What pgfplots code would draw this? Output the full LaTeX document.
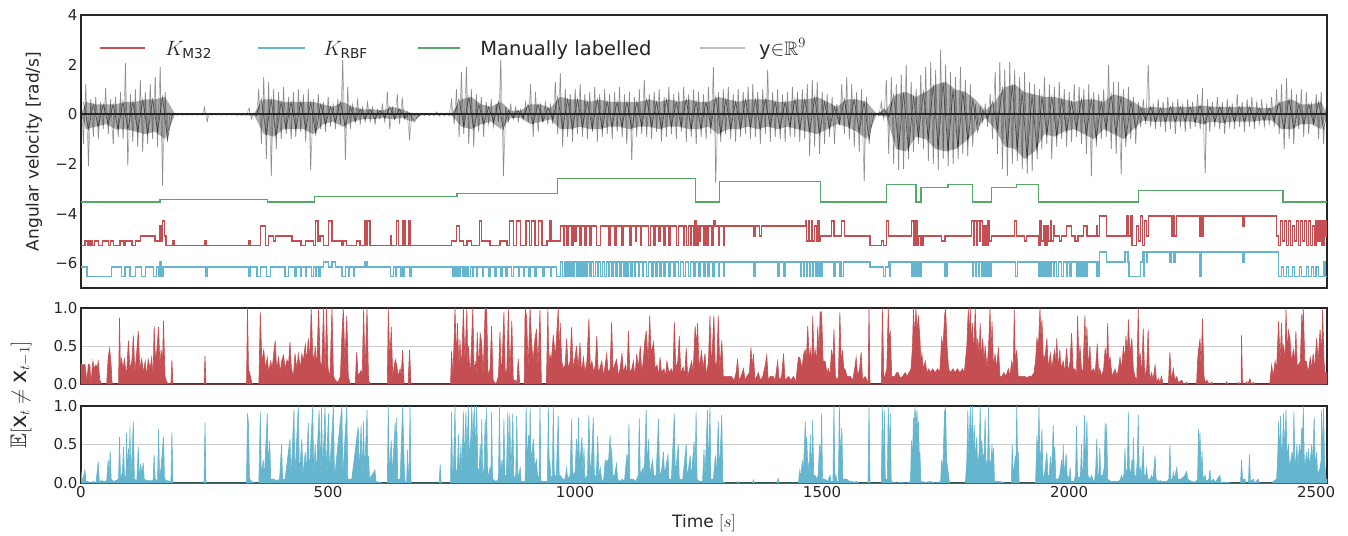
\documentclass[border=0pt]{standalone}
\usepackage{amsmath,amssymb}
\usepackage{fontspec}
\setmainfont{DejaVu Sans}
\usepackage{pgfplots}
\usepackage{pgfplotstable}
\pgfplotsset{compat=1.18}
\definecolor{mred}{RGB}{196,78,82}
\definecolor{mcyan}{RGB}{100,181,205}
\definecolor{mgreen}{RGB}{85,168,104}
\definecolor{mgrey}{RGB}{190,190,190}
\definecolor{spine}{RGB}{38,38,38}
\pgfplotsset{
  common/.style={
    scale only axis, width=1246pt, xmin=0, xmax=2522, anchor=north west,
    axis line style={spine, line width=1.6pt},
    major tick length=0pt,
    tick label style={font=\fontsize{15}{18}\selectfont, text=spine},
    label style={font=\fontsize{17}{20}\selectfont, text=spine},
  },
  comb/.style={
    common, ymin=0, ymax=1, ytick={0,0.5,1}, yticklabels={0.0,0.5,1.0},
    ymajorgrids, grid style={gray!40, line width=1pt},
  },
}
\tikzset{legtext/.style={anchor=base west, inner sep=0pt, font=\fontsize{19.5}{23}\selectfont, text=spine}}
% outer envelope of the nine channels (alternating max / min per 5 s)
\pgfplotstableread{
x y
0 0.8
5 -1.2
10 1.2
15 -2.1
20 0.6
25 -0.9
30 0.7
35 -1.0
40 0.5
45 -0.6
50 1.05
55 -0.8
60 0.6
65 -1.2
70 0.7
75 -0.9
80 0.9
85 -1.0
90 2.06
95 -2.06
100 0.8
105 -1.1
110 1.0
115 -1.3
120 1.4
125 -1.5
130 0.9
135 -1.2
140 1.2
145 -1.0
150 1.5
155 -1.3
160 1.9
165 -2.87
170 0.9
175 -1.1
180 0.05
185 -0.05
190 0.04
195 -0.04
200 0.04
205 -0.04
210 0.04
215 -0.04
220 0.04
225 -0.04
230 0.04
235 -0.04
240 0.04
245 -0.04
250 0.3
255 -0.3
260 0.04
265 -0.04
270 0.04
275 -0.04
280 0.04
285 -0.04
290 0.04
295 -0.04
300 0.04
305 -0.04
310 0.04
315 -0.04
320 0.04
325 -0.04
330 0.04
335 -0.04
340 0.25
345 -0.2
350 0.05
355 -0.05
360 1.0
365 -1.2
370 1.5
375 -1.8
380 1.3
385 -2.5
390 1.0
395 -1.4
400 0.9
405 -1.0
410 1.1
415 -0.8
420 0.7
425 -1.0
430 0.9
435 -0.9
440 1.0
445 -0.7
450 0.8
455 -1.1
460 1.0
465 -2.26
470 0.6
475 -0.8
480 0.8
485 -0.6
490 0.5
495 -0.7
500 0.7
505 -0.5
510 0.4
515 -0.6
520 0.6
525 -0.4
530 2.2
535 -1.86
540 1.1
545 -0.6
550 0.4
555 -0.3
560 0.6
565 -0.4
570 0.3
575 -0.3
580 0.5
585 -0.3
590 0.3
595 -0.4
600 0.2
605 -0.2
610 0.4
615 -0.3
620 0.9
625 -0.6
630 0.3
635 -0.2
640 0.8
645 -0.4
650 0.65
655 -0.2
660 0.1
665 -1.05
670 0.05
675 -0.05
680 0.05
685 -0.05
690 0.05
695 -0.05
700 0.05
705 -0.05
710 0.05
715 -0.05
720 0.1
725 -0.08
730 0.05
735 -0.05
740 0.05
745 -0.05
750 0.6
755 -0.4
760 1.0
765 -0.9
770 1.7
775 -0.8
780 1.9
785 -1.2
790 1.0
795 -1.3
800 0.8
805 -0.7
810 0.7
815 -0.9
820 0.5
825 -0.4
830 0.6
835 -0.5
840 0.4
845 -0.3
850 2.2
855 -2.5
860 0.3
865 -0.3
870 0.4
875 -0.2
880 0.3
885 -0.3
890 0.2
895 -0.2
900 0.5
905 -0.3
910 1.2
915 -0.9
920 0.9
925 -0.7
930 0.4
935 -0.3
940 0.5
945 -0.4
950 0.4
955 -0.4
960 1.3
965 -0.8
970 1.65
975 -1.3
980 1.0
985 -0.9
990 0.8
995 -1.1
1000 1.0
1005 -0.8
1010 1.2
1015 -0.9
1020 0.8
1025 -1.0
1030 0.9
1035 -0.7
1040 1.1
1045 -1.1
1050 0.8
1055 -0.9
1060 1.0
1065 -0.8
1070 0.8
1075 -1.0
1080 0.9
1085 -0.7
1090 1.1
1095 -0.9
1100 0.8
1105 -1.2
1110 0.9
1115 -1.86
1120 0.7
1125 -0.9
1130 1.0
1135 -0.8
1140 1.4
1145 -0.9
1150 0.8
1155 -1.0
1160 0.9
1165 -0.7
1170 1.0
1175 -1.1
1180 0.7
1185 -0.9
1190 1.1
1195 -0.8
1200 0.8
1205 -1.0
1210 0.9
1215 -0.7
1220 1.1
1225 -1.1
1230 0.8
1235 -0.9
1240 1.0
1245 -1.2
1250 0.9
1255 -0.9
1260 0.8
1265 -1.0
1270 1.1
1275 -0.8
1280 1.9
1285 -2.75
1290 0.9
1295 -1.1
1300 1.0
1305 -0.8
1310 1.1
1315 -1.0
1320 0.8
1325 -1.1
1330 1.0
1335 -0.9
1340 0.9
1345 -0.8
1350 1.1
1355 -1.0
1360 1.2
1365 -0.9
1370 0.9
1375 -1.2
1380 1.0
1385 -0.8
1390 1.8
1395 -1.1
1400 0.9
1405 -0.9
1410 1.0
1415 -1.0
1420 0.8
1425 -1.1
1430 0.9
1435 -0.9
1440 1.1
1445 -0.9
1450 0.9
1455 -1.1
1460 1.0
1465 -1.0
1470 1.2
1475 -1.7
1480 1.4
1485 -1.3
1490 1.3
1495 -1.6
1500 0.9
1505 -1.2
1510 0.8
1515 -0.9
1520 0.7
1525 -1.2
1530 0.4
1535 -0.4
1540 1.2
1545 -0.8
1550 1.5
1555 -1.0
1560 1.2
1565 -1.3
1570 0.9
1575 -1.5
1580 1.0
1585 -2.67
1590 0.7
1595 -1.2
1600 0.05
1605 -0.05
1610 0.05
1615 -0.05
1620 0.5
1625 -0.2
1630 1.4
1635 -1.6
1640 1.5
1645 -2.0
1650 1.2
1655 -2.26
1660 1.6
1665 -2.2
1670 2.0
1675 -1.8
1680 1.3
1685 -1.5
1690 1.0
1695 -1.2
1700 1.6
1705 -1.4
1710 1.9
1715 -1.9
1720 2.1
1725 -2.0
1730 1.8
1735 -2.26
1740 2.6
1745 -1.8
1750 2.0
1755 -2.1
1760 1.7
1765 -2.0
1770 1.5
1775 -1.8
1780 1.9
1785 -1.6
1790 1.4
1795 -1.7
1800 1.2
1805 -1.3
1810 0.4
1815 -0.4
1820 0.3
1825 -0.3
1830 0.4
1835 -0.5
1840 0.8
1845 -1.0
1850 1.7
1855 -1.6
1860 2.1
1865 -2.2
1870 1.8
1875 -2.5
1880 2.1
1885 -2.0
1890 1.8
1895 -1.9
1900 1.5
1905 -2.2
1910 1.7
1915 -2.4
1920 1.3
1925 -2.3
1930 1.2
1935 -1.8
1940 1.0
1945 -1.4
1950 1.5
1955 -1.2
1960 1.2
1965 -1.8
1970 1.1
1975 -1.3
1980 1.3
1985 -1.0
1990 1.0
1995 -1.3
2000 0.9
2005 -1.1
2010 1.2
2015 -0.9
2020 1.1
2025 -1.2
2030 1.0
2035 -1.6
2040 1.2
2045 -2.5
2050 0.9
2055 -1.3
2060 0.8
2065 -1.0
2070 1.0
2075 -0.9
2080 2.0
2085 -1.4
2090 1.3
2095 -1.6
2100 1.3
2105 -2.4
2110 1.0
2115 -1.3
2120 1.1
2125 -1.0
2130 0.7
2135 -1.2
2140 0.5
2145 -0.5
2150 0.6
2155 -0.4
2160 2.0
2165 -0.5
2170 0.4
2175 -0.6
2180 0.6
2185 -0.5
2190 0.5
2195 -0.7
2200 0.7
2205 -0.6
2210 0.5
2215 -0.8
2220 0.6
2225 -0.5
2230 0.4
2235 -0.7
2240 0.6
2245 -0.6
2250 0.5
2255 -0.5
2260 0.8
2265 -0.6
2270 1.05
2275 -2.35
2280 0.6
2285 -0.7
2290 0.5
2295 -0.5
2300 0.7
2305 -0.6
2310 0.5
2315 -0.8
2320 0.6
2325 -0.5
2330 0.4
2335 -0.6
2340 0.8
2345 -0.5
2350 0.5
2355 -0.7
2360 0.6
2365 -0.5
2370 0.7
2375 -0.6
2380 0.5
2385 -0.4
2390 0.6
2395 -0.5
2400 0.4
2405 -0.4
2410 0.7
2415 -0.5
2420 1.0
2425 -0.8
2430 1.2
2435 -1.4
2440 1.45
2445 -1.0
2450 1.0
2455 -1.2
2460 0.8
2465 -0.6
2470 1.0
2475 -0.9
2480 0.9
2485 -0.8
2490 0.5
2495 -0.4
2500 0.8
2505 -1.0
2510 0.9
2515 -1.2
2520 0.3
}\outer
\begin{document}
\begin{tikzpicture}[x=1pt,y=1pt]
\useasboundingbox (0,0) rectangle (1348,-535);
% ---------------- top panel ----------------
\begin{axis}[common, at={(81pt,-15pt)}, height=273pt,
  ymin=-7, ymax=4, ytick={-6,-4,-2,0,2,4}, yticklabels={−6,−4,−2,0,2,4},
  xtick=\empty,
  ylabel={Angular velocity [rad/s]},
  ylabel style={at={(axis description cs:-0.0377,0.5)}, anchor=center},
]
% legend samples (drawn first)
\addplot[draw=mred, line width=1.8pt, forget plot] coordinates {(38,2.68)(130,2.68)};
\addplot[draw=mcyan, line width=1.8pt, forget plot] coordinates {(358,2.68)(453,2.68)};
\addplot[draw=mgreen, line width=1.8pt, forget plot] coordinates {(682,2.68)(767,2.68)};
\addplot[draw=mgrey, line width=1.8pt, forget plot] coordinates {(1253,2.68)(1344,2.68)};
% dark core band of the channels
\addplot[fill=black, fill opacity=0.32, draw=none, forget plot] coordinates {
(0,0)(10,0.5)(30,0.4)(50,0.4)(70,0.4)(90,0.5)(110,0.5)(130,0.6)(150,0.6)(170,0.7)(190,0.03)(210,0.03)(230,0.03)(250,0.03)(270,0.03)(290,0.03)(310,0.03)(330,0.03)(350,0.03)(370,0.6)(390,0.6)(410,0.5)(430,0.5)(450,0.5)(470,0.5)(490,0.4)(510,0.3)(530,0.5)(550,0.3)(570,0.2)(590,0.2)(610,0.15)(630,0.3)(650,0.2)(670,0.04)(690,0.03)(710,0.03)(730,0.03)(750,0.03)(770,0.6)(790,0.7)(810,0.4)(830,0.3)(850,0.5)(870,0.15)(890,0.15)(910,0.4)(930,0.4)(950,0.25)(970,0.7)(990,0.6)(1010,0.6)(1030,0.5)(1050,0.6)(1070,0.5)(1090,0.5)(1110,0.5)(1130,0.5)(1150,0.6)(1170,0.5)(1190,0.6)(1210,0.5)(1230,0.6)(1250,0.5)(1270,0.5)(1290,0.7)(1310,0.6)(1330,0.5)(1350,0.6)(1370,0.6)(1390,0.6)(1410,0.5)(1430,0.5)(1450,0.6)(1470,0.6)(1490,0.7)(1510,0.5)(1530,0.3)(1550,0.6)(1570,0.6)(1590,0.5)(1610,0.03)(1630,0.2)(1650,0.8)(1670,0.9)(1690,0.7)(1710,0.9)(1730,1.2)(1750,1.3)(1770,1.0)(1790,0.9)(1810,0.6)(1830,0.15)(1850,0.5)(1870,1.1)(1890,1.2)(1910,0.9)(1930,0.8)(1950,0.7)(1970,0.7)(1990,0.6)(2010,0.5)(2030,0.6)(2050,0.6)(2070,0.5)(2090,0.8)(2110,0.7)(2130,0.5)(2150,0.25)(2170,0.3)(2190,0.25)(2210,0.3)(2230,0.3)(2250,0.3)(2270,0.35)(2290,0.3)(2310,0.3)(2330,0.3)(2350,0.3)(2370,0.3)(2390,0.25)(2410,0.25)(2430,0.5)(2450,0.6)(2470,0.4)(2490,0.4)(2510,0.5)(2522,0)
(2510,-0.6)(2490,-0.4)(2470,-0.4)(2450,-0.6)(2430,-0.6)(2410,-0.25)(2390,-0.25)(2370,-0.3)(2350,-0.3)(2330,-0.3)(2310,-0.35)(2290,-0.3)(2270,-0.4)(2250,-0.3)(2230,-0.3)(2210,-0.3)(2190,-0.3)(2170,-0.3)(2150,-0.25)(2130,-0.6)(2110,-1.0)(2090,-0.8)(2070,-0.6)(2050,-1.0)(2030,-0.8)(2010,-0.6)(1990,-0.7)(1970,-0.9)(1950,-0.8)(1930,-1.5)(1910,-1.8)(1890,-1.4)(1870,-1.3)(1850,-0.6)(1830,-0.15)(1810,-0.7)(1790,-1.1)(1770,-1.4)(1750,-1.5)(1730,-1.4)(1710,-1.0)(1690,-0.9)(1670,-1.5)(1650,-1.4)(1630,-0.1)(1610,-0.03)(1590,-1.0)(1570,-0.7)(1550,-0.5)(1530,-0.4)(1510,-0.6)(1490,-0.8)(1470,-0.7)(1450,-0.6)(1430,-0.5)(1410,-0.6)(1390,-0.5)(1370,-0.6)(1350,-0.5)(1330,-0.6)(1310,-0.6)(1290,-0.8)(1270,-0.5)(1250,-0.6)(1230,-0.6)(1210,-0.5)(1190,-0.5)(1170,-0.6)(1150,-0.5)(1130,-0.5)(1110,-0.6)(1090,-0.5)(1070,-0.5)(1050,-0.6)(1030,-0.6)(1010,-0.5)(990,-0.6)(970,-0.6)(950,-0.2)(930,-0.3)(910,-0.4)(890,-0.15)(870,-0.15)(850,-0.6)(830,-0.3)(810,-0.4)(790,-0.6)(770,-0.5)(750,-0.03)(730,-0.03)(710,-0.03)(690,-0.03)(670,-0.3)(650,-0.15)(630,-0.2)(610,-0.15)(590,-0.2)(570,-0.2)(550,-0.3)(530,-0.5)(510,-0.3)(490,-0.4)(470,-0.8)(450,-0.6)(430,-0.6)(410,-0.6)(390,-0.9)(370,-0.8)(350,-0.03)(330,-0.03)(310,-0.03)(290,-0.03)(270,-0.03)(250,-0.03)(230,-0.03)(210,-0.03)(190,-0.03)(170,-1.0)(150,-0.7)(130,-0.8)(110,-0.7)(90,-0.6)(70,-0.6)(50,-0.4)(30,-0.5)(10,-0.6)(0,0)
} -- cycle;
\addplot[black, opacity=0.3, line width=0.7pt, forget plot] table {\outer};
\addplot[ycomb, black, opacity=0.22, line width=0.9pt, forget plot] table {\outer};
\addplot[black, opacity=0.5, line width=0.7pt, forget plot] coordinates {
(5,0.5)(15,-0.6)(25,0.4)(35,-0.5)(45,0.4)(55,-0.4)(65,0.4)(75,-0.6)(85,0.5)(95,-0.6)(105,0.5)(115,-0.7)(125,0.6)(135,-0.8)(145,0.6)(155,-0.7)(165,0.7)(175,-1.0)(185,0.03)(355,-0.03)(365,0.6)(375,-0.8)(385,0.6)(395,-0.9)(405,0.5)(415,-0.6)(425,0.5)(435,-0.6)(445,0.5)(455,-0.6)(465,0.5)(475,-0.8)(485,0.4)(495,-0.4)(505,0.3)(515,-0.3)(525,0.5)(535,-0.5)(545,0.3)(555,-0.3)(565,0.2)(575,-0.2)(585,0.2)(595,-0.2)(605,0.15)(615,-0.15)(625,0.3)(635,-0.2)(645,0.2)(655,-0.15)(665,0.04)(675,-0.3)(685,0.03)(755,-0.03)(765,0.6)(775,-0.5)(785,0.7)(795,-0.6)(805,0.4)(815,-0.4)(825,0.3)(835,-0.3)(845,0.5)(855,-0.6)(865,0.15)(875,-0.15)(885,0.15)(895,-0.15)(905,0.4)(915,-0.4)(925,0.4)(935,-0.3)(945,0.25)(955,-0.2)(965,0.7)(975,-0.6)(985,0.6)(995,-0.6)(1005,0.6)(1015,-0.5)(1025,0.5)(1035,-0.6)(1045,0.6)(1055,-0.6)(1065,0.5)(1075,-0.5)(1085,0.5)(1095,-0.5)(1105,0.5)(1115,-0.6)(1125,0.5)(1135,-0.5)(1145,0.6)(1155,-0.5)(1165,0.5)(1175,-0.6)(1185,0.6)(1195,-0.5)(1205,0.5)(1215,-0.5)(1225,0.6)(1235,-0.6)(1245,0.5)(1255,-0.6)(1265,0.5)(1275,-0.5)(1285,0.7)(1295,-0.8)(1305,0.6)(1315,-0.6)(1325,0.5)(1335,-0.6)(1345,0.6)(1355,-0.5)(1365,0.6)(1375,-0.6)(1385,0.6)(1395,-0.5)(1405,0.5)(1415,-0.6)(1425,0.5)(1435,-0.5)(1445,0.6)(1455,-0.6)(1465,0.6)(1475,-0.7)(1485,0.7)(1495,-0.8)(1505,0.5)(1515,-0.6)(1525,0.3)(1535,-0.4)(1545,0.6)(1555,-0.5)(1565,0.6)(1575,-0.7)(1585,0.5)(1595,-1.0)(1605,0.03)(1615,-0.03)(1625,0.2)(1635,-0.1)(1645,0.8)(1655,-1.4)(1665,0.9)(1675,-1.5)(1685,0.7)(1695,-0.9)(1705,0.9)(1715,-1.0)(1725,1.2)(1735,-1.4)(1745,1.3)(1755,-1.5)(1765,1.0)(1775,-1.4)(1785,0.9)(1795,-1.1)(1805,0.6)(1815,-0.7)(1825,0.15)(1835,-0.15)(1845,0.5)(1855,-0.6)(1865,1.1)(1875,-1.3)(1885,1.2)(1895,-1.4)(1905,0.9)(1915,-1.8)(1925,0.8)(1935,-1.5)(1945,0.7)(1955,-0.8)(1965,0.7)(1975,-0.9)(1985,0.6)(1995,-0.7)(2005,0.5)(2015,-0.6)(2025,0.6)(2035,-0.8)(2045,0.6)(2055,-1.0)(2065,0.5)(2075,-0.6)(2085,0.8)(2095,-0.8)(2105,0.7)(2115,-1.0)(2125,0.5)(2135,-0.6)(2145,0.25)(2155,-0.25)(2165,0.3)(2175,-0.3)(2185,0.25)(2195,-0.3)(2205,0.3)(2215,-0.3)(2225,0.3)(2235,-0.3)(2245,0.3)(2255,-0.3)(2265,0.35)(2275,-0.4)(2285,0.3)(2295,-0.3)(2305,0.3)(2315,-0.35)(2325,0.3)(2335,-0.3)(2345,0.3)(2355,-0.3)(2365,0.3)(2375,-0.3)(2385,0.25)(2395,-0.25)(2405,0.25)(2415,-0.25)(2425,0.5)(2435,-0.6)(2445,0.6)(2455,-0.6)(2465,0.4)(2475,-0.4)(2485,0.4)(2495,-0.4)(2505,0.5)(2515,-0.6)(2522,0)
};
\addplot[black!85, line width=1.6pt, forget plot] coordinates {(0,0)(2522,0)};
% manually labelled
\addplot[mgreen, line width=1.3pt, const plot, forget plot] coordinates {
(0,-3.54)(160,-3.43)(378,-3.54)(473,-3.31)(761,-3.18)(965,-2.6)(1244,-3.54)(1293,-2.71)(1497,-3.54)(1631,-2.83)(1690,-3.54)(1700,-2.96)(1755,-2.83)(1804,-3.54)(1843,-2.96)(1893,-2.83)(1938,-3.54)(2141,-3.08)(2433,-3.54)(2522,-3.54)
};
% K M32
\addplot[mred, line width=1.3pt, const plot, forget plot] coordinates {
(0,-5.3)(8,-5.1)(14,-5.3)(18,-5.1)(22,-5.3)(28,-5.1)(35,-5.3)(44,-5.1)(55,-5.3)(59,-5.1)(66,-5.3)(79,-5.1)(86,-5.3)(89,-5.1)(103,-5.3)(110,-5.1)(120,-4.9)(150,-5.1)(160,-4.5)(163,-5.1)(165,-4.3)(169,-4.9)(172,-5.3)(186,-5.1)(189,-5.3)(251,-5.1)(254,-5.3)(339,-5.1)(342,-5.3)(363,-4.5)(373,-5.3)(379,-4.9)(390,-5.1)(394,-4.9)(427,-5.1)(445,-5.3)(455,-5.1)(470,-5.3)(474,-4.3)(480,-5.1)(484,-4.9)(491,-5.3)(501,-4.3)(508,-5.1)(528,-5.3)(531,-5.1)(538,-5.3)(558,-5.1)(565,-5.3)(575,-4.3)(578,-5.3)(580,-4.3)(585,-5.3)(626,-4.9)(629,-5.3)(639,-4.3)(643,-5.3)(652,-4.3)(656,-5.3)(663,-4.3)(666,-5.3)(750,-5.1)(760,-4.5)(766,-5.1)(774,-5.3)(781,-5.1)(791,-5.3)(806,-4.3)(811,-5.1)(828,-5.3)(848,-5.1)(862,-5.3)(868,-4.3)(875,-5.3)(882,-4.3)(890,-5.3)(901,-4.3)(908,-5.3)(912,-4.3)(919,-5.3)(926,-4.3)(933,-5.3)(943,-5.1)(949,-4.3)(953,-5.1)(970,-4.5)
(976,-5.3)(979,-4.5)(983,-5.3)(986,-4.5)(993,-5.3)(996,-4.5)(1000,-5.1)(1003,-4.5)(1010,-5.3)(1013,-4.5)(1020,-5.3)(1023,-4.5)(1030,-5.3)(1033,-4.5)(1044,-5.3)(1051,-4.5)(1068,-5.3)(1071,-4.5)(1081,-5.3)(1084,-4.5)(1095,-5.3)(1098,-4.5)(1111,-5.3)(1114,-4.5)(1122,-5.1)(1125,-4.5)(1132,-5.3)(1135,-4.5)(1149,-5.3)(1152,-4.5)(1159,-5.3)(1162,-4.5)(1169,-5.1)(1172,-4.5)(1179,-5.3)(1182,-4.5)(1189,-5.3)(1192,-4.5)(1206,-5.3)(1209,-4.5)(1219,-5.3)(1222,-4.5)(1226,-5.3)(1229,-4.5)(1233,-5.3)(1236,-4.5)(1240,-5.3)(1243,-4.3)(1246,-5.3)(1249,-4.5)(1251,-5.1)(1254,-4.5)(1260,-5.3)(1263,-4.5)(1267,-5.3)(1270,-4.5)(1277,-5.3)(1280,-4.3)(1283,-4.5)(1290,-5.3)(1293,-4.5)(1300,-5.3)(1303,-4.5)
(1361,-4.9)(1364,-4.5)(1374,-4.9)(1377,-4.5)
(1466,-4.3)(1469,-5.1)(1472,-4.3)(1475,-5.1)(1478,-4.3)(1481,-5.1)(1485,-4.5)(1488,-5.1)(1491,-4.3)(1494,-5.1)(1497,-4.9)(1519,-4.3)(1524,-4.9)(1540,-4.3)(1545,-4.9)(1597,-5.3)(1620,-5.1)(1625,-5.3)(1630,-4.3)(1635,-4.9)(1681,-4.3)(1685,-5.3)(1688,-4.3)(1692,-5.3)(1695,-4.9)(1700,-5.3)(1704,-4.9)(1742,-5.1)(1749,-4.9)
(1803,-4.3)(1806,-5.3)(1809,-4.3)(1812,-5.3)(1815,-4.3)(1818,-5.1)(1821,-4.3)(1824,-5.3)(1828,-4.5)(1832,-5.3)(1836,-4.3)(1839,-5.1)(1843,-4.9)(1889,-4.3)(1894,-4.9)(1910,-5.1)(1914,-4.9)
(1938,-5.3)(1941,-4.3)(1944,-5.1)(1948,-4.5)(1951,-5.3)(1955,-4.5)(1958,-5.1)(1962,-4.3)(1965,-5.1)(1968,-4.5)(1971,-4.9)(1980,-5.1)(1984,-4.9)(1995,-4.5)(2005,-4.9)(2012,-5.1)(2018,-4.9)(2029,-4.5)(2036,-4.9)(2055,-4.5)(2058,-4.9)(2062,-4.1)(2076,-4.9)(2117,-4.1)(2120,-4.9)(2124,-4.1)(2127,-5.3)(2137,-4.5)(2140,-5.1)(2144,-4.1)(2148,-5.3)(2152,-4.3)(2156,-4.9)(2160,-4.1)(2208,-4.9)(2211,-4.1)(2214,-4.9)(2217,-4.1)(2264,-4.9)(2266,-4.1)(2268,-4.9)(2271,-4.1)(2351,-4.5)(2354,-4.1)
(2420,-4.9)(2424,-5.3)(2428,-4.3)(2432,-5.1)(2436,-4.3)(2440,-5.3)(2444,-4.3)(2448,-5.3)(2452,-4.5)(2456,-5.1)(2460,-4.3)(2464,-5.3)(2468,-4.3)(2472,-5.1)(2476,-4.3)(2480,-5.3)(2484,-4.3)(2488,-5.3)(2492,-4.5)(2496,-5.3)(2500,-4.3)(2504,-5.1)(2508,-4.3)(2512,-5.3)(2516,-4.3)(2520,-4.9)(2522,-4.9)
};
% K RBF
\addplot[mcyan, line width=1.3pt, const plot, forget plot] coordinates {
(0,-6.15)(12,-6.55)(62,-6.15)(82,-6.55)(89,-6.15)(99,-6.55)(110,-6.15)(123,-6.55)(130,-6.15)(147,-6.55)(153,-6.15)(158,-6.55)(160,-5.95)(163,-6.55)(166,-6.15)(253,-6.55)(256,-6.15)(339,-6.55)(342,-6.15)(356,-6.55)(363,-6.15)(376,-6.55)(383,-6.15)(413,-6.55)(420,-6.15)(433,-6.55)(436,-6.15)(444,-6.55)(447,-6.15)(454,-6.55)(457,-6.15)(467,-6.55)(470,-6.15)(474,-6.55)(477,-6.15)(481,-6.55)(484,-6.15)(491,-5.95)(501,-6.15)(508,-5.95)(515,-6.15)(528,-6.55)(535,-6.15)(541,-6.55)(544,-6.15)(551,-6.55)(554,-6.15)(575,-5.95)(579,-6.15)(626,-6.55)(633,-6.15)(636,-6.55)(639,-6.15)(646,-6.55)(649,-6.15)(652,-6.55)(655,-6.15)(666,-6.55)(669,-6.15)
(752,-6.55)(755,-6.15)(758,-6.55)(761,-6.15)(765,-6.55)(768,-6.15)(772,-6.55)(775,-6.15)(778,-6.55)(781,-6.15)(785,-6.55)(788,-6.15)(792,-6.55)(795,-6.15)(800,-6.55)(803,-6.15)(812,-6.55)(815,-6.15)(825,-6.55)(828,-6.15)(838,-6.55)(841,-6.15)(850,-6.55)(853,-6.15)(860,-6.55)(863,-6.15)(872,-6.55)(875,-6.15)(885,-6.55)(888,-6.15)(895,-6.55)(898,-6.15)(906,-6.55)(909,-6.15)(918,-6.55)(921,-6.15)(935,-6.55)(938,-6.15)(950,-6.55)(953,-6.15)(963,-6.55)(970,-5.95)
(975,-6.55)(978,-5.95)(980,-6.55)(983,-5.95)(985,-6.55)(988,-5.95)(990,-6.55)(993,-5.95)(996,-6.55)(999,-5.95)(1003,-6.55)(1006,-5.95)(1010,-6.55)(1013,-5.95)(1016,-6.55)(1019,-5.95)(1022,-6.55)(1025,-5.95)(1030,-6.55)(1033,-5.95)(1038,-6.55)(1041,-5.95)(1045,-6.55)(1048,-5.95)(1052,-6.55)(1055,-5.95)(1060,-6.55)(1063,-5.95)(1067,-6.55)(1070,-5.95)(1075,-6.55)(1078,-5.95)(1083,-6.55)(1086,-5.95)(1090,-6.55)(1093,-5.95)(1098,-6.55)(1101,-5.95)(1105,-6.55)(1108,-5.95)(1113,-6.55)(1116,-5.95)(1120,-6.55)(1123,-5.95)(1128,-6.55)(1131,-5.95)(1136,-6.55)(1139,-5.95)(1145,-6.55)(1148,-5.95)(1155,-6.55)(1158,-5.95)(1163,-6.55)(1166,-5.95)(1172,-6.55)(1175,-5.95)(1180,-6.55)(1183,-5.95)(1190,-6.55)(1193,-5.95)(1200,-6.55)(1203,-5.95)(1210,-6.55)(1213,-5.95)(1220,-6.55)(1223,-5.95)(1230,-6.55)(1233,-5.95)(1240,-6.55)(1243,-5.95)(1250,-6.55)(1253,-5.95)(1260,-6.55)(1263,-5.95)(1268,-6.55)(1271,-5.95)(1278,-6.55)(1281,-5.95)(1290,-6.55)(1293,-5.95)(1300,-6.55)(1303,-5.95)(1361,-6.55)(1364,-5.95)(1411,-6.55)(1414,-5.95)(1422,-6.55)(1425,-5.95)(1456,-6.55)(1459,-5.95)(1462,-6.55)(1465,-5.95)(1468,-6.55)(1471,-5.95)(1474,-6.55)(1477,-5.95)(1480,-6.55)(1483,-5.95)(1486,-6.55)(1489,-5.95)(1492,-6.55)(1495,-5.95)(1498,-6.55)(1501,-5.95)(1524,-6.55)(1527,-5.95)(1535,-6.55)(1538,-5.95)(1540,-6.55)(1543,-5.95)
(1597,-6.15)(1625,-6.55)(1628,-6.15)(1634,-5.95)(1636,-6.55)(1639,-5.95)
(1682,-6.55)(1684,-5.95)(1686,-6.55)(1688,-5.95)(1690,-6.55)(1692,-5.95)(1694,-6.55)(1696,-5.95)(1698,-6.55)(1700,-5.95)(1748,-6.55)(1750,-5.95)(1752,-6.55)(1754,-5.95)(1804,-6.55)(1807,-5.95)(1810,-6.55)(1813,-5.95)(1816,-6.55)(1819,-5.95)(1822,-6.55)(1825,-5.95)(1828,-6.55)(1831,-5.95)(1834,-6.55)(1837,-5.95)(1840,-6.55)(1843,-5.95)(1891,-6.55)(1896,-5.95)(1938,-6.55)(1941,-5.95)(1944,-6.55)(1947,-5.95)(1950,-6.55)(1953,-5.95)(1956,-6.55)(1959,-5.95)(1962,-6.55)(1965,-5.95)(1968,-6.55)(1971,-5.95)(1975,-6.55)(1978,-5.95)(1985,-6.55)(1988,-5.95)(1994,-6.55)(1997,-5.95)(2002,-6.55)(2005,-5.95)(2015,-6.55)(2018,-5.95)(2022,-6.55)(2025,-5.95)(2028,-6.55)(2031,-5.95)(2034,-6.55)(2037,-5.95)(2056,-6.55)(2058,-5.95)(2060,-6.55)(2062,-5.55)(2076,-5.95)(2113,-5.55)(2119,-5.95)(2121,-6.55)(2144,-5.95)(2148,-5.55)(2151,-6.55)(2153,-5.55)(2156,-5.95)(2158,-5.55)(2204,-5.95)(2207,-5.55)(2212,-5.95)(2215,-5.55)(2265,-6.55)(2268,-5.55)(2351,-5.95)(2354,-5.55)(2424,-6.55)(2430,-6.15)(2434,-6.55)(2440,-6.15)(2444,-6.55)(2452,-6.15)(2456,-6.55)(2466,-6.15)(2470,-6.55)(2480,-6.15)(2484,-6.55)(2490,-6.15)(2494,-6.55)(2500,-6.15)(2505,-6.55)(2515,-5.95)(2518,-6.55)(2522,-6.55)
};
\node[legtext] at (axis cs:170,2.38) {$K_{\text{M32}}$};
\node[legtext] at (axis cs:490,2.38) {$K_{\text{RBF}}$};
\node[legtext] at (axis cs:808,2.38) {Manually labelled};
\node[legtext] at (axis cs:1372,2.38) {y${\in}\mathbb{R}^9$};
\end{axis}
% ---------------- middle panel ----------------
\begin{axis}[comb, at={(81pt,-308pt)}, height=76pt,
  xtick=\empty,
  ylabel={$\mathbb{E}[\text{x}_t \neq \text{x}_{t-1}]$},
  ylabel style={at={(axis description cs:-0.048,-0.145)}, anchor=center, font=\fontsize{22.5}{26}\selectfont},
]
\addplot[draw=mred, fill=mred, line width=0.6pt] coordinates {
(0,0.26)(4,0.25)(8,0.26)(12,0.04)(15,0.26)(18,0.25)(20,0)(24,0.3)(27,0.2)(30,0.25)(33,0.22)(35,0.3)(38,0.05)(42,0)(52,0)(55,0.35)(58,0.47)(61,0.25)(63,0)(76,0)(78,0.87)(80,0.1)(82,0.33)(85,0.2)(88,0.33)(92,0.1)(96,0.57)(99,0.2)(103,0.3)(106,0.64)(109,0.15)(112,0.35)(116,0.7)(119,0.2)(123,0.33)(126,0.15)(130,0.3)(133,0.1)(136,0.33)(140,0.2)(143,0.35)(146,0.1)(148,0.76)(151,0.3)(153,0.4)(157,0.75)(160,0.2)(162,0.45)(165,0.3)(167,0.83)(170,0.1)(174,0.02)(180,0)(182,0)(184,0.32)(186,0)(249,0)(251,0.37)(253,0)(335,0)(337,1.0)(339,0.2)(343,0.1)(346,0)(360,0)(363,0.95)(366,0.3)(370,0.45)(373,0.2)(377,0.35)(380,0.15)(384,0.3)(387,0.2)(390,0.4)(393,0.57)(396,0.2)(400,0.35)(403,0.15)(406,0.3)(410,0.38)(413,0.2)(417,0.32)(420,0.25)(423,0.55)(426,0.2)(430,0.1)(433,0.4)(437,0.2)(440,0.4)(444,0.2)(447,0.4)(450,0.3)(454,0.52)(457,0.3)(460,0.6)(463,0.3)(466,1.0)(469,0.4)(472,0.3)(474,0.5)(477,0.2)(481,1.0)(484,0.3)(487,0.2)(491,1.0)(494,0.1)(497,1.0)(500,0.2)(504,0.1)(508,1.0)(511,0.1)(515,0.05)(520,0.02)(525,0.1)(528,0.63)(531,1.0)(534,0.3)(538,0.9)(541,0.1)(545,0)(555,0)(558,0.42)(561,0.1)(567,0.18)(569,0.05)(572,0.98)(575,0.2)(579,1.0)(582,0.05)(585,0)(620,0)(622,1.0)(625,0.3)(628,0.75)(631,0.1)(636,0.32)(639,0.25)(642,0.1)(646,0.2)(648,0.1)
(651,0.45)(654,0)(662,0)(665,0.45)(668,0)(748,0)(750,0.43)(753,0.1)(757,1.0)(760,0.3)(762,0.8)(765,0.2)(767,0.58)(770,0.2)(774,1.0)(777,0.3)(781,1.0)(783,0.2)(784,0.5)(788,0.1)(793,1.0)(796,0.05)(798,0.3)(800,0.1)(802,0.68)(805,0.2)(808,0.66)(811,0.55)(814,0.1)(818,1.0)(821,1.0)(824,0.1)(828,0.2)(831,0.76)(834,0.05)(840,0)(845,0.1)(848,0.69)(851,0.05)(856,0.95)(859,0.1)(862,0.2)(865,1.0)(868,0.1)(872,0.83)(875,0.05)(879,0.05)(882,0)(885,0.33)(888,0)(897,0)(899,1.0)(902,0.88)(905,0.2)(909,1.0)(912,0.55)(915,0.3)(919,0.6)(922,0.72)(925,0.2)(929,0.97)(932,0)(942,0)(945,1.0)(947,0.2)(949,0.4)(952,0.3)(956,0.65)(960,0.35)(966,1.0)(968,0.3)(970,0.8)(973,0.3)(976,0.2)(980,0.25)(983,0.6)(986,0.2)(990,0.3)(993,0.75)(996,0.2)(1000,0.35)(1003,0.5)(1006,0.2)(1010,0.54)(1013,0.15)(1017,0.35)(1020,0.15)(1024,0.3)(1028,0.86)(1031,0.2)(1034,0.3)(1038,0.15)(1041,0.25)(1044,0.63)(1047,0.15)(1050,0.2)(1054,0.3)(1058,0.1)(1061,0.25)(1064,0.4)(1067,0.15)(1071,0.2)(1074,0.82)(1077,0.15)(1080,0.25)(1084,0.32)(1088,0.1)(1091,0.2)(1095,0.4)(1098,0.15)(1102,0.25)(1105,0.1)(1108,0.7)(1111,0.15)(1115,0.2)(1118,0.3)(1121,0.1)(1125,0.4)(1128,0.2)(1132,0.5)(1135,0.15)(1138,0.3)(1141,0.55)(1144,0.7)(1148,0.3)(1151,0.9)(1154,0.4)(1159,0.55)(1162,0.2)(1166,0.25)(1169,0.1)(1172,0.35)(1175,0.15)(1180,0.2)(1183,0.1)(1186,0.3)(1190,0.15)(1195,0.2)(1198,0.1)(1201,0.82)(1204,0.2)(1208,0.3)(1211,0.63)(1214,0.15)(1219,0.22)(1222,0.1)(1225,0.47)(1228,0.1)(1232,0.2)(1236,0.3)(1239,0.15)(1243,0.76)(1246,0.5)(1248,0.8)(1251,0.2)(1256,0.43)(1259,0.2)(1263,0.4)(1266,0.1)(1270,0.3)(1273,0.9)(1276,0.2)(1281,0.9)(1284,0.2)(1287,0.3)(1290,0.9)(1293,0.2)(1297,0.57)(1300,0.1)(1304,0.1)(1310,0.1)
(1316,0.1)(1322,0.05)(1326,0.15)(1329,0.33)(1332,0.05)(1336,0.1)(1341,0.2)(1344,0.05)(1348,0.1)(1353,0.15)(1356,0.48)(1359,0.2)(1361,0.4)(1364,0.05)(1368,0.1)(1371,0.15)(1375,0.05)(1380,0.1)(1385,0.25)(1388,0.38)(1391,0.05)(1395,0.1)(1401,0.1)(1405,0.05)(1410,0.3)(1413,0.05)(1418,0.1)(1422,0.4)(1425,0.05)(1432,0.1)(1437,0.05)(1442,0.1)(1447,0.03)(1452,0.35)(1455,0.35)(1459,0.2)(1463,0.4)(1466,0.45)(1468,0.3)(1471,0.76)(1474,0.3)(1476,0.45)(1479,0.3)(1481,0.89)(1484,0.3)(1486,0.45)(1489,0.3)(1491,0.75)(1494,0.4)(1496,0.95)(1499,0.95)(1502,0.3)(1506,0.3)(1510,0.15)(1513,0.2)(1516,0.1)(1519,0.45)(1522,0.3)(1524,0.72)(1527,0.1)(1530,0.05)(1533,0.1)(1536,0.95)(1539,0.2)(1541,0.45)(1544,0.2)(1546,0.2)(1551,0.1)(1557,0.1)(1562,0.05)(1566,0.2)(1569,0.35)(1572,0.1)(1576,0.2)(1579,0.42)(1582,0.05)(1587,0.1)(1591,0.05)(1593,0)(1595,1.0)(1597,0)(1620,0)(1622,1.0)(1625,0.1)(1627,0.1)(1631,0.2)(1634,1.0)(1636,0.5)(1638,0.7)(1641,0.1)(1647,0.1)(1651,0.15)(1654,0.15)(1658,0.08)(1663,0.1)(1668,0.15)(1672,0.1)(1676,0.15)(1680,0.2)(1683,0.5)(1685,1.0)(1687,0.6)(1690,1.0)(1692,0.7)(1695,0.9)(1698,0.6)(1700,0.3)(1702,0.4)(1705,0.2)(1709,0.3)(1712,0.15)(1716,0.2)(1719,0.15)(1724,0.2)(1729,0.15)(1734,0.2)(1738,0.15)(1740,0.35)(1742,0.6)(1745,0.5)(1748,0.9)(1750,1.0)(1753,0.5)(1756,0.2)(1760,0.15)(1765,0.2)(1769,0.15)(1774,0.2)(1779,0.15)(1784,0.2)(1788,0.15)(1790,0.3)(1793,0.5)(1796,1.0)(1798,0.6)(1800,1.0)(1802,0.5)(1804,0.8)(1807,0.4)(1810,1.0)(1813,0.4)(1815,0.6)(1818,0.4)(1820,0.8)(1823,0.3)(1825,0.6)(1828,0.3)(1830,0.5)(1834,0.2)(1837,0.5)(1840,1.0)(1842,0.4)(1844,0.82)(1847,0.2)(1850,0.4)(1853,0.2)(1857,0.48)(1860,0.1)(1864,0.1)(1868,0.15)(1872,0.1)(1877,0.2)(1880,0.1)(1884,0.3)(1887,0.2)(1889,0.98)(1891,0.3)(1894,0.45)(1897,0.1)(1904,0.1)(1910,0.1)(1915,0.08)(1918,0.1)(1924,0.1)(1929,0.15)(1932,0.3)(1935,0.6)(1938,0.5)(1941,1.0)(1943,0.6)(1945,0.85)(1948,0.3)(1952,0.4)(1955,0.6)(1958,0.2)(1962,0.4)(1965,0.2)(1968,0.35)
(1971,0.45)(1973,0.2)(1975,0.6)(1978,0.2)(1981,0.45)(1984,0.2)(1988,0.3)(1991,0.15)(1995,0.47)(1998,0.15)(2002,0.3)(2005,0.67)(2008,0.2)(2012,0.2)(2015,0.1)(2017,0.89)(2020,0.3)(2022,0.5)(2025,0.2)(2028,0.15)(2032,0.9)(2034,0.4)(2036,0.75)(2039,0.2)(2042,0.5)(2045,0.15)(2049,0.2)(2053,0.15)(2057,0.53)(2060,0.1)(2062,0.2)(2066,0.1)(2070,0.2)(2073,0.47)(2076,0.3)(2078,0.8)(2080,0.3)(2083,0.35)(2087,0.1)(2090,0.15)(2093,0.2)(2097,0.1)(2100,0.2)(2103,0.35)(2106,0.2)(2110,0.5)(2113,0.3)(2115,0.63)(2118,0.4)(2120,0.85)(2123,0.4)(2127,0.6)(2130,0.2)(2133,0.1)(2137,0.05)(2140,1.0)(2142,0.2)(2144,0.4)(2147,0.1)(2150,0.73)(2153,0.1)(2157,0.2)(2160,0.72)(2163,0.05)(2167,0.15)(2170,0.05)(2174,0.25)(2177,0.03)(2181,0.07)(2184,0.02)(2187,0.1)(2190,0)(2201,0)(2204,0.42)(2207,0.05)(2211,0.2)(2214,0.05)(2218,0.1)(2221,0.02)(2228,0.05)(2232,0)(2238,0.02)(2242,0)(2258,0)(2260,0.3)(2262,0.45)(2265,0.6)(2267,0.2)(2270,0.86)(2273,0.1)(2276,0.02)(2279,0.05)(2283,0)(2289,0.02)(2292,0)(2317,0)(2319,0.03)(2321,0)(2341,0)(2343,0.02)(2346,0)(2348,0)(2349,0.64)(2351,0)(2357,0)(2359,0.03)(2362,0)(2366,0.07)(2369,0)(2373,0.02)(2376,0)(2406,0)(2410,0.25)(2413,0.1)(2417,0.3)(2420,0.2)(2424,0.83)(2427,0.3)(2430,0.8)(2432,0.4)(2434,0.5)(2437,0.3)(2439,0.98)(2442,0.4)(2444,0.7)(2447,0.6)(2450,0.3)(2454,0.45)(2457,0.3)(2459,0.7)(2462,0.2)(2464,0.25)(2468,0.3)(2471,0.92)(2472,0.6)(2474,1.0)(2477,0.3)(2480,0.3)(2484,0.15)(2488,0.35)(2491,0.2)(2494,0.4)(2497,0.2)(2501,0.6)(2504,0.3)(2508,0.72)(2511,0.4)(2513,0.98)(2516,0.3)(2518,0.15)(2522,0.15)
} \closedcycle;
\end{axis}
% ---------------- bottom panel ----------------
\begin{axis}[comb, at={(81pt,-406pt)}, height=77pt,
  xtick={0,500,1000,1500,2000,2500}, xticklabels={0,500,1000,1500,2000,2500},
  xlabel={Time $[s]$},
  xlabel style={at={(axis description cs:0.5,-0.52)}, anchor=center},
]
\addplot[draw=mcyan, fill=mcyan, line width=0.6pt] coordinates {
(0,0.15)(3,0.02)(8,0.17)(10,0.02)(14,0.02)(18,0)(25,0.02)(30,0)(35,0.27)(37,0.02)(42,0.03)(48,0.02)(52,0.03)(55,0.3)(57,0.05)(59,0.42)(61,0.05)(66,0.02)(70,0.03)(76,0.05)(78,0.6)(80,0.05)(84,0.15)(86,0.47)(88,0.1)(91,0.05)(92,0.65)(94,0.1)(96,0.45)(98,0.1)(99,0.74)(101,0.05)(106,0.8)(108,0.05)(113,0.03)(116,0.47)(118,0.05)(121,0.25)(123,0.1)(126,0.26)(128,0.05)(133,0.03)(140,0.03)(146,0.03)(148,0.37)(150,0.05)(155,0.03)(157,0.7)(159,0.05)(162,0.2)(167,0.6)(169,0.05)(174,0.03)(182,0.02)(184,0.66)(186,0)(249,0)(251,0.78)(253,0)(335,0)(337,0.9)(339,0.77)(341,0.05)(346,0.02)(352,0)(360,0)(363,0.93)(365,0.1)(369,0.3)(371,0.05)(377,0.9)(379,0.2)(382,0.55)(384,0.05)(390,0.05)(396,0.03)(402,0.05)(406,0.5)(408,0.05)(413,0.05)(423,0.57)(425,0.05)(431,0.95)(433,0.1)(440,1.0)(442,0.1)(447,0.57)(449,0.1)(454,0.4)(456,0.1)(460,0.78)(462,0.1)(469,1.0)(471,0.1)(474,0.5)(476,0.1)(482,0.95)(484,0.1)(487,1.0)(489,0.1)(494,1.0)(496,0.1)(501,0.9)(503,0.1)(511,1.0)(513,0.05)(528,1.0)(530,0.1)(538,1.0)(540,0.05)(548,0.05)(561,0.73)(563,0.1)(567,0.75)(569,0.1)(572,0.8)(574,0.1)(579,0.95)(581,0.1)(582,0.35)(584,0.05)(595,0.17)(597,0.02)(610,0)(620,0)(622,1.0)(624,0.1)(628,0.55)(630,0.1)(636,0.78)(638,0.3)(639,0.85)(641,0.05)(646,0.05)(651,1.0)
(655,0.05)(657,0)(659,0)(661,0.43)(663,0)(664,0)(666,1.0)(668,0)(725,0)(727,0.24)(729,0)(748,0)(750,0.92)(752,0.1)(754,0.2)(757,1.0)(759,0.1)(762,0.2)(764,0.63)(766,0.1)(769,0.5)(771,0.1)(774,0.93)(776,0.2)(779,0.93)(781,0.3)(784,1.0)(786,0.3)(789,0.6)(791,1.0)(793,0.5)(796,1.0)(798,0.4)(801,1.0)(803,0.2)(806,0.15)(808,0.5)(810,0.2)(811,0.83)(813,0.1)(816,0.2)(818,0.84)(820,0.3)(821,1.0)(823,0.05)(828,0.2)(830,0.05)(831,0.92)(833,0.05)(840,0.02)(845,0.05)(847,1.0)(849,0.05)(852,0.3)(854,0.05)(856,0.83)(858,0.1)(861,0.1)(864,0.93)(866,0.1)(868,0.9)(870,0.05)(874,0.9)(876,0.05)(880,0.1)(882,0.87)(884,0.05)(889,0.2)(891,0.02)(899,0.02)(901,1.0)(903,0.3)(906,0.62)(908,0.4)(909,1.0)(911,0.3)(913,0.4)(916,0.57)(918,0.2)(922,0.3)(924,0.1)(927,0.05)(929,1.0)(931,0.02)(944,0.02)(946,1.0)(948,0.05)(949,0.3)(951,0.05)(954,0.1)(956,1.0)(958,0.1)(962,0.1)(966,0.87)(968,0.1)(970,0.1)(975,0.05)(980,0.05)(983,0.2)(985,0.05)(990,0.1)(993,0.83)(995,0.1)(1000,0.15)(1003,0.57)(1005,0.2)(1007,0.85)(1009,0.2)(1014,0.6)(1016,0.1)(1018,0.45)(1020,0.05)(1025,0.1)(1028,0.88)(1030,0.3)(1032,0.1)(1037,0.85)(1039,0.1)(1043,0.1)(1046,0.61)(1048,0.1)(1051,0.2)(1054,0.02)(1058,0.05)(1061,0.3)(1064,0.28)(1068,0.3)(1071,0.62)(1073,0.2)(1074,0.45)(1076,0.1)(1080,0.1)(1084,0.25)(1086,0.05)(1091,0.02)(1095,0.05)(1100,0.02)(1105,0.38)(1107,0.1)(1109,0.77)(1111,0.05)(1118,0.05)(1123,0.02)(1128,0.1)(1130,0.84)(1132,0.1)(1138,0.2)(1140,0.1)(1144,0.95)(1146,0.2)(1149,0.57)(1151,0.1)(1157,0.3)(1159,0.1)(1164,0.1)(1169,0.83)(1171,0.1)(1175,0.15)(1179,0.4)(1181,0.1)(1188,0.37)(1190,0.05)(1195,0.05)(1201,0.9)(1203,0.1)(1209,0.5)(1211,0.05)(1218,0.05)(1225,0.5)(1227,0.05)(1233,0.36)(1235,0.05)(1241,0.54)(1243,0.1)(1245,0.93)(1247,0.05)(1252,0.02)(1258,0.02)(1261,0.43)(1263,0.05)(1268,0.95)(1270,0.1)(1273,1.0)(1275,0.05)(1280,0.05)(1284,0.36)(1286,0.05)(1290,0.8)(1292,0.1)(1297,0.88)(1299,0.02)(1304,0)
(1328,0)(1330,0.02)(1332,0)(1359,0)(1361,0.04)(1363,0)(1409,0)(1411,0.06)(1413,0)(1452,0)(1455,0.17)(1457,0.05)(1460,0.3)(1462,0.1)(1466,0.8)(1468,0.3)(1469,0.6)(1471,0.2)(1472,0.25)(1474,0.1)(1476,0.63)(1478,0.1)(1481,0.82)(1483,0.1)(1486,0.1)(1489,0.05)(1492,0.1)(1495,0.5)(1497,0.2)(1499,0.9)(1501,0.05)(1506,0.05)(1511,0.02)(1516,0.1)(1518,0.02)(1522,0.02)(1524,1.0)(1526,0.05)(1528,0.1)(1530,0.02)(1533,0.02)(1535,1.0)(1537,0.3)(1540,0.72)(1542,0.05)(1550,0.05)(1555,0.02)(1560,0.02)(1565,0.01)(1570,0.02)(1575,0)(1593,0)(1595,1.0)(1597,0)(1620,0)(1622,1.0)(1624,0.1)(1626,0.95)(1628,0.05)(1632,0.05)(1634,1.0)(1636,0.3)(1638,0.9)(1640,0.02)(1650,0)(1660,0.01)(1670,0)(1679,0.02)(1681,0.55)(1683,0.3)(1685,0.85)(1686,0.6)(1688,1.0)(1690,0.7)(1692,0.95)(1694,0.6)(1695,0.8)(1697,0.3)(1698,0.4)(1700,0.02)(1710,0.01)(1720,0.02)(1730,0)(1740,0.02)(1742,0.3)(1744,0.1)(1748,0.95)(1749,0.7)(1750,1.0)(1752,0.3)(1756,0.1)(1758,0)(1790,0)(1793,0.3)(1795,0.95)(1797,0.3)(1800,1.0)(1802,0.4)(1804,1.0)(1806,0.3)(1808,0.75)(1810,0.3)(1813,0.6)(1815,0.2)(1818,0.4)(1820,1.0)(1822,0.2)(1823,0.55)(1826,0.3)(1828,0.4)(1830,0.85)(1832,0.2)(1835,0.3)(1837,1.0)(1839,0.2)(1842,0.3)(1844,0.5)(1845,0.2)(1847,0.45)(1849,0.02)(1860,0.02)(1870,0)(1883,0)(1885,0.5)(1887,0.1)(1889,0.2)(1891,0.35)(1892,0.1)(1894,1.0)(1896,0.2)(1897,0.4)(1899,0)(1932,0)(1935,0.62)(1937,0.3)(1939,1.0)(1941,0.2)(1943,0.4)(1945,0.7)(1947,0.1)(1950,0.1)(1955,0.4)(1957,0.1)(1960,0.1)(1962,0.35)(1964,0.1)(1968,0.75)
(1970,0.1)(1971,0.47)(1973,0.05)(1978,0.05)(1981,0.1)(1985,0.3)(1987,0.1)(1988,0.5)(1990,0.1)(1994,0.38)(1996,0.1)(2000,0.05)(2002,0.2)(2004,0.02)(2010,0.02)(2013,0.1)(2015,0.74)(2017,0.1)(2020,0.05)(2023,0.1)(2025,0.5)(2027,0.1)(2029,0.2)(2031,0.88)(2033,0.2)(2036,0.82)(2038,0.1)(2042,0.05)(2046,0.1)(2048,0.02)(2052,0.05)(2054,0.2)(2056,0.57)(2058,0.1)(2060,0.1)(2062,0.45)(2064,0.1)(2068,0.1)(2071,0.2)(2073,0.78)(2075,0.3)(2076,0.76)(2078,0.05)(2085,0.02)(2093,0.02)(2100,0.02)(2104,0.05)(2106,0.1)(2108,0.05)(2111,0.1)(2113,0.45)(2115,0.1)(2118,0.2)(2120,0.92)(2122,0.2)(2125,0.1)(2127,0.3)(2129,0.2)(2130,0.6)(2132,0.1)(2136,0.1)(2138,0.3)(2140,0.88)(2142,0.1)(2144,0.2)(2146,0.05)(2150,0.48)(2152,0.1)(2155,0.1)(2157,0.2)(2159,0.05)(2164,0.05)(2167,0.1)(2170,0.05)(2174,0.36)(2176,0.05)(2180,0.02)(2184,0.03)(2190,0.02)(2197,0.02)(2202,0.05)(2204,0.5)(2206,0.05)(2209,0.05)(2211,0.14)(2213,0.05)(2218,0.2)(2220,0.05)(2226,0.05)(2232,0.08)(2238,0.15)(2240,0.05)(2248,0.02)(2255,0.01)(2260,0.05)(2262,0.7)(2264,0.3)(2265,0.65)(2267,0.1)(2269,0.41)(2271,0.05)(2275,0.1)(2278,0.02)(2283,0.05)(2285,0.17)(2287,0.02)(2292,0.05)(2296,0.01)(2305,0.1)(2307,0.01)(2319,0.01)(2330,0)(2347,0)(2349,0.3)(2351,0.05)(2356,0.05)(2358,0)(2363,0)(2365,0.37)(2367,0.02)(2373,0.05)(2375,0)(2383,0.05)(2385,0)(2411,0)(2413,0.02)(2420,0.05)(2422,0.3)(2424,0.8)(2426,0.3)(2428,0.87)(2430,0.3)(2432,0.5)(2434,0.9)(2436,0.4)(2439,0.95)(2441,0.3)(2444,0.5)(2446,0.2)(2449,0.3)(2451,0.4)(2453,0.2)(2455,0.93)(2457,0.2)(2459,0.3)(2461,0.5)(2463,0.2)(2466,0.5)(2468,0.3)(2471,0.72)(2472,0.4)(2474,1.0)(2476,0.3)(2478,0.2)(2480,0.4)(2482,0.2)(2484,0.45)(2487,0.2)(2491,0.5)(2493,0.2)(2496,0.86)(2498,0.2)(2501,0.4)(2503,0.1)(2508,0.2)(2510,0.3)(2511,0.95)(2513,0.3)(2515,0.97)(2517,0.3)(2520,0.05)(2522,0.05)
} \closedcycle;
\end{axis}
\end{tikzpicture}
\end{document}
